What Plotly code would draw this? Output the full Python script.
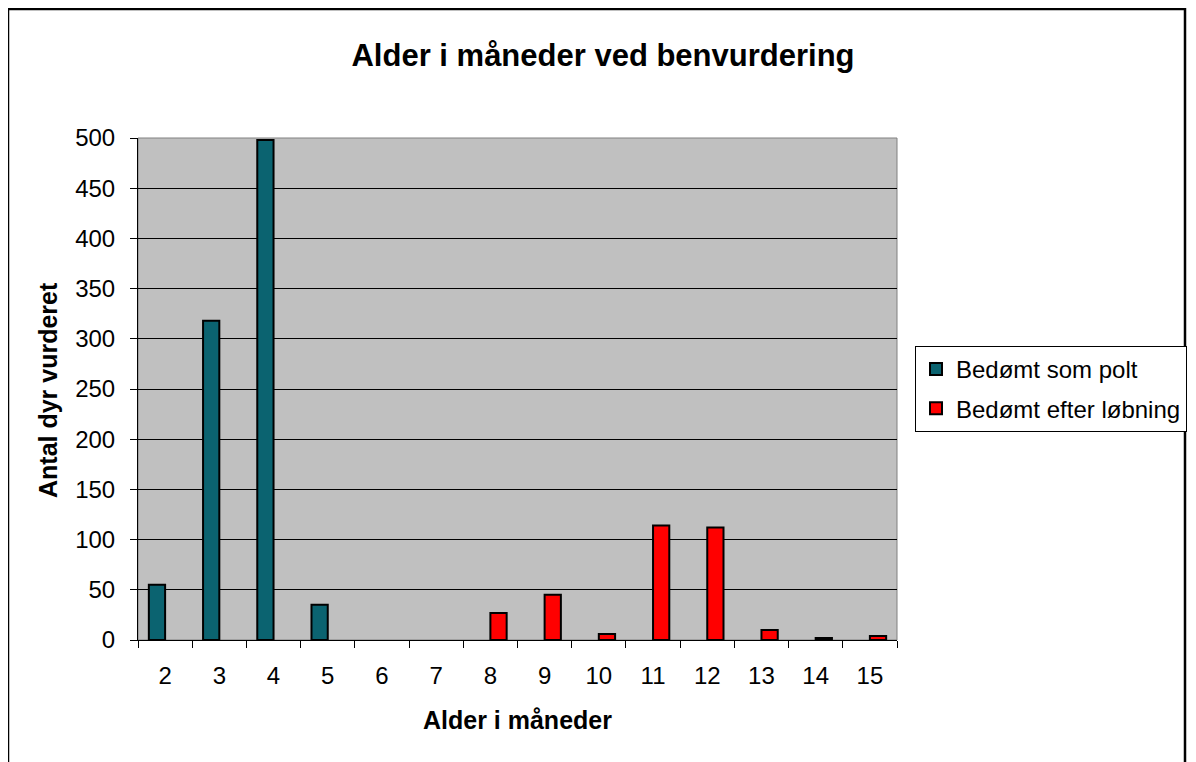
import plotly.graph_objects as go

categories = ["2", "3", "4", "5", "6", "7", "8", "9", "10", "11", "12", "13", "14", "15"]
polt_values = [55, 318, 498, 35, None, None, None, None, None, None, None, None, None, None]
loebning_values = [None, None, None, None, None, None, 27, 45, 6, 114, 112, 10, 2, 4]
y_ticks = [0, 50, 100, 150, 200, 250, 300, 350, 400, 450, 500]

FONT = "Liberation Sans, Arial, sans-serif"
OFF = 8  # page body margin offset
W, H = 1196 - OFF, 762 - OFF
L, R, T, B = 138 - OFF, 897 - OFF, 138 - OFF, 640 - OFF
pw, ph = R - L, B - T

def px_x(x):
    return (x - OFF - L) / pw

def px_y(y):
    return (B - (y - OFF)) / ph

fig = go.Figure()
fig.add_trace(go.Bar(
    x=categories, y=polt_values, name="Bedømt som polt",
    marker=dict(color="#0B6370", line=dict(color="black", width=2)),
    legendgroup="a",
))
fig.add_trace(go.Bar(
    x=categories, y=loebning_values, name="Bedømt efter løbning",
    marker=dict(color="#FF0000", line=dict(color="black", width=2)),
    legendgroup="b",
))

fig.update_layout(
    width=W, height=H,
    margin=dict(l=L, r=W - R, t=T, b=H - B, autoexpand=False),
    paper_bgcolor="white", plot_bgcolor="#C0C0C0",
    barmode="group", bargap=0.4, bargroupgap=0,
    font=dict(family=FONT, color="black", size=24),
    title=dict(text="<b>Alder i måneder ved benvurdering</b>",
               x=(603 - OFF) / W, xanchor="center", y=1 - (55 - OFF) / H, yanchor="middle",
               font=dict(size=31, family=FONT, color="black")),
    legend=dict(x=px_x(915), y=px_y(346), xanchor="left", yanchor="top",
                bordercolor="black", borderwidth=1, bgcolor="white",
                font=dict(size=24, family=FONT), traceorder="grouped",
                tracegroupgap=5),
    showlegend=True,
)
fig.update_xaxes(
    type="category", showgrid=False, tickson="boundaries", ticks="outside",
    ticklen=7, tickcolor="black", tickwidth=1, showline=True, linecolor="black",
    linewidth=1, ticklabelstandoff=14, tickfont=dict(size=24, family=FONT),
)
fig.update_yaxes(
    range=[0, 500], tickvals=y_ticks, ticks="outside", ticklen=7,
    tickcolor="black", showline=True, linecolor="black", linewidth=1,
    showgrid=True, gridcolor="black", gridwidth=1, zeroline=False,
    ticklabelstandoff=10, tickfont=dict(size=24, family=FONT),
)

# plot area border (gray)
fig.add_shape(type="rect", xref="paper", yref="paper", x0=0, x1=1, y0=0, y1=1,
              line=dict(color="#808080", width=1), layer="below")
# outer chart frame
fig.add_shape(type="rect", xref="paper", yref="paper",
              x0=px_x(8), x1=px_x(1185), y0=px_y(9), y1=px_y(800),
              line=dict(color="black", width=2.5))

fig.add_annotation(text="<b>Alder i måneder</b>", xref="paper", yref="paper",
                   x=0.5, y=px_y(720), xanchor="center", yanchor="middle",
                   showarrow=False, font=dict(size=25, family=FONT))
fig.add_annotation(text="<b>Antal dyr vurderet</b>", xref="paper", yref="paper",
                   x=px_x(48), y=px_y(390), xanchor="center", yanchor="middle",
                   textangle=-90, showarrow=False, font=dict(size=25, family=FONT))

fig.write_html("out.html")
